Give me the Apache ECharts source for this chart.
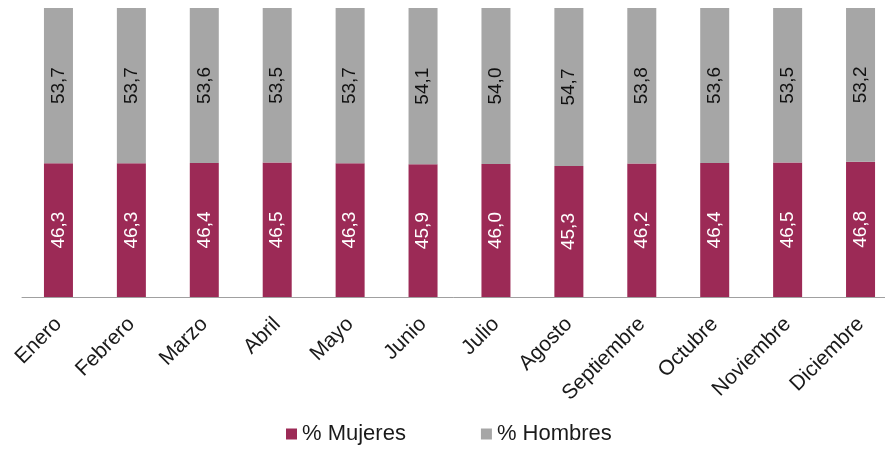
<!DOCTYPE html>
<html>
<head>
<meta charset="utf-8">
<script src="https://cdn.jsdelivr.net/npm/echarts@6/dist/echarts.min.js"></script>
<style>html,body{margin:0;padding:0;background:#fff}#c{width:885px;height:451px}</style>
</head>
<body>
<div id="c"></div>
<script>
const categories = ['Enero','Febrero','Marzo','Abril','Mayo','Junio','Julio','Agosto','Septiembre','Octubre','Noviembre','Diciembre'];
const mujeres = [46.3,46.3,46.4,46.5,46.3,45.9,46.0,45.3,46.2,46.4,46.5,46.8];
const hombres = [53.7,53.7,53.6,53.5,53.7,54.1,54.0,54.7,53.8,53.6,53.5,53.2];
const seriesNames = ['% Mujeres','% Hombres'];

const fmt = p => p.value.toFixed(1).replace('.', ',');
const chart = echarts.init(document.getElementById('c'));
chart.setOption({
  animation: false,
  textStyle: { fontFamily: 'Liberation Sans, Arial, sans-serif' },
  grid: { left: 22, right: -12, top: 8, bottom: 154, outerBoundsMode: 'none', containLabel: false },
  legend: {
    bottom: 1, left: 281,
    itemWidth: 11, itemHeight: 11, itemGap: 75,
    icon: 'rect',
    textStyle: { fontSize: 22, color: '#1a1a1a', fontFamily: 'Liberation Sans, Arial, sans-serif' },
    data: seriesNames
  },
  xAxis: {
    type: 'category', data: categories,
    axisLine: { lineStyle: { color: '#a0a0a0', width: 1 } },
    axisTick: { show: false },
    axisLabel: { rotate: 45, fontSize: 21, color: '#1a1a1a', margin: 24, interval: 0 }
  },
  yAxis: { type: 'value', min: 0, max: 100, show: false, splitLine: { show: false } },
  series: [
    {
      name: seriesNames[0], type: 'bar', stack: 'a', data: mujeres, barWidth: 29,
      itemStyle: { color: '#9c2a56' },
      label: { show: true, position: 'inside', rotate: 90, fontSize: 19, color: '#ffffff', formatter: fmt }
    },
    {
      name: seriesNames[1], type: 'bar', stack: 'a', data: hombres, barWidth: 29,
      itemStyle: { color: '#a6a6a6' },
      label: { show: true, position: 'inside', rotate: 90, fontSize: 19, color: '#111111', formatter: fmt }
    }
  ]
});
</script>
</body>
</html>
